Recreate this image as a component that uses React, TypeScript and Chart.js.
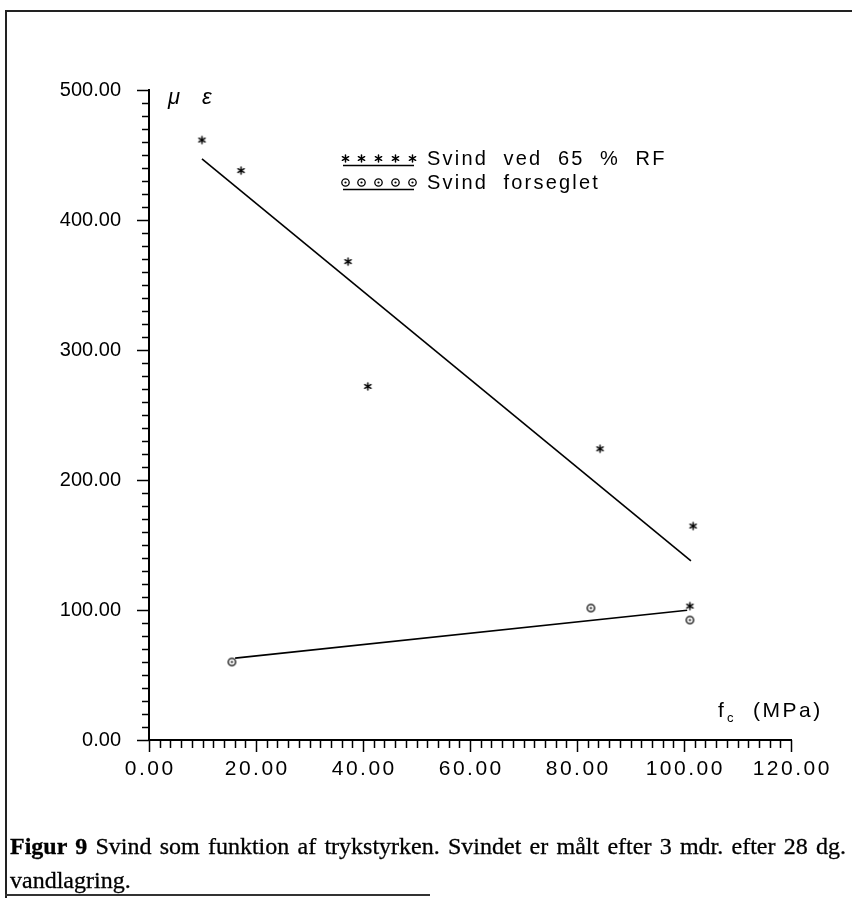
import React, { useEffect, useRef } from "react";
import { Chart, registerables } from "chart.js";

Chart.register(...registerables);

// ---- data ----
const STAR_X = [9.9, 17.2, 37.2, 40.9, 84.3, 101.7, 101.1];
const STAR_Y = [461.5, 438, 368, 272, 224, 164.6, 103];
const CIRC_X = [15.5, 82.6, 101.1];
const CIRC_Y = [60, 101.5, 92.3];
const FIT1_X = [9.9, 101.3];
const FIT1_Y = [447, 137.7];
const FIT2_X = [16.1, 100.6];
const FIT2_Y = [63, 99.8];
const X_TICKS = [0, 20, 40, 60, 80, 100, 120];
const Y_TICKS = [0, 100, 200, 300, 400, 500];
const LEGEND_LABELS = ["Svind  ved  65  %  RF", "Svind  forseglet"];
const Y_TITLE = ["\u03bc", "\u03b5"];
const X_TITLE = ["f", "c", "(MPa)"];
const CAPTION_BOLD = "Figur 9";
const CAPTION_TEXT =
  " Svind som funktion af trykstyrken. Svindet er målt efter 3 mdr. efter 28 dg. vandlagring.";

const SANS = '"Liberation Sans", Arial, sans-serif';

function makeStar(): HTMLCanvasElement {
  const c = document.createElement("canvas");
  c.width = 11;
  c.height = 11;
  const g = c.getContext("2d")!;
  g.strokeStyle = "#000";
  g.lineWidth = 1.5;
  g.lineCap = "round";
  const r = 3.6;
  for (let i = 0; i < 3; i++) {
    const a = Math.PI / 2 + (i * Math.PI) / 3;
    g.beginPath();
    g.moveTo(5.5 - r * Math.cos(a), 5.5 - r * Math.sin(a));
    g.lineTo(5.5 + r * Math.cos(a), 5.5 + r * Math.sin(a));
    g.stroke();
  }
  return c;
}

function makeCircle(): HTMLCanvasElement {
  const c = document.createElement("canvas");
  c.width = 11;
  c.height = 11;
  const g = c.getContext("2d")!;
  g.strokeStyle = "#000";
  g.lineWidth = 1.3;
  g.beginPath();
  g.arc(5.5, 5.5, 3.7, 0, Math.PI * 2);
  g.stroke();
  g.fillStyle = "#000";
  g.beginPath();
  g.arc(5.5, 5.5, 1.1, 0, Math.PI * 2);
  g.fill();
  return c;
}

function drawSpaced(
  ctx: CanvasRenderingContext2D,
  text: string,
  x: number,
  y: number,
  spacing: number,
  align: "left" | "center" | "right"
) {
  const chars = Array.from(text);
  const widths = chars.map((ch) => ctx.measureText(ch).width);
  const total = widths.reduce((a, b) => a + b, 0) + spacing * (chars.length - 1);
  let cx = align === "left" ? x : align === "center" ? x - total / 2 : x - total;
  ctx.textAlign = "left";
  chars.forEach((ch, i) => {
    ctx.fillText(ch, cx, y);
    cx += widths[i] + spacing;
  });
}

export default function App() {
  const ref = useRef<HTMLCanvasElement | null>(null);

  useEffect(() => {
    if (!ref.current) return;
    const star = makeStar();
    const circ = makeCircle();

    const overlay = {
      id: "overlay",
      afterDraw(chart: any) {
        const ctx: CanvasRenderingContext2D = chart.ctx;
        const xs = chart.scales.x;
        const ys = chart.scales.y;
        const area = chart.chartArea;
        ctx.save();
        ctx.strokeStyle = "#000";
        ctx.fillStyle = "#000";
        ctx.lineWidth = 1.5;
        // y ticks (outside, left)
        ys.ticks.forEach((t: any) => {
          const p = Math.round(ys.getPixelForValue(t.value)) + 0.5;
          const len = t.value % 100 === 0 ? 12 : 7;
          ctx.beginPath();
          ctx.moveTo(area.left - len, p);
          ctx.lineTo(area.left, p);
          ctx.stroke();
        });
        // x ticks (outside, below)
        xs.ticks.forEach((t: any) => {
          const p = Math.round(xs.getPixelForValue(t.value)) + 0.5;
          const len = t.value % 20 === 0 ? 12 : 8;
          ctx.beginPath();
          ctx.moveTo(p, area.bottom);
          ctx.lineTo(p, area.bottom + len);
          ctx.stroke();
        });
        // x tick labels
        ctx.font = `21px ${SANS}`;
        ctx.textBaseline = "alphabetic";
        X_TICKS.forEach((v) => {
          drawSpaced(ctx, v.toFixed(2), xs.getPixelForValue(v), 775, 2.5, "center");
        });
        // y title  μ ε
        ctx.font = `italic 22px ${SANS}`;
        ctx.fillText(Y_TITLE[0], 168, 104);
        ctx.fillText(Y_TITLE[1], 202, 104);
        // x title f_c (MPa)
        ctx.font = `21px ${SANS}`;
        ctx.fillText(X_TITLE[0], 718, 717);
        ctx.font = `13px ${SANS}`;
        ctx.fillText(X_TITLE[1], 727, 722);
        ctx.font = `21px ${SANS}`;
        drawSpaced(ctx, X_TITLE[2], 753, 717, 2.5, "left");
        // legend
        const rows = [
          { y: 158, img: star },
          { y: 182, img: circ },
        ];
        rows.forEach((r, i) => {
          for (let k = 0; k < 5; k++) {
            const cx = 345 + k * 16.8;
            ctx.drawImage(r.img, Math.round(cx - 5.5), Math.round(r.y - 5.5));
          }
          ctx.lineWidth = 1.5;
          ctx.beginPath();
          ctx.moveTo(343, r.y + 7.5);
          ctx.lineTo(414, r.y + 7.5);
          ctx.stroke();
          ctx.font = `20px ${SANS}`;
          drawSpaced(ctx, LEGEND_LABELS[i], 427, r.y + 7, 2.2, "left");
        });
        ctx.restore();
      },
    };

    const chart = new Chart(ref.current, {
      type: "scatter",
      data: {
        datasets: [
          {
            label: "Svind ved 65 % RF",
            data: STAR_X.map((x, i) => ({ x, y: STAR_Y[i] })),
            pointStyle: star as any,
            pointRadius: 5,
            showLine: false,
          },
          {
            label: "Svind forseglet",
            data: CIRC_X.map((x, i) => ({ x, y: CIRC_Y[i] })),
            pointStyle: circ as any,
            pointRadius: 5,
            showLine: false,
          },
          {
            label: "fit 1",
            data: FIT1_X.map((x, i) => ({ x, y: FIT1_Y[i] })),
            showLine: true,
            pointRadius: 0,
            borderColor: "#000",
            borderWidth: 1.6,
          },
          {
            label: "fit 2",
            data: FIT2_X.map((x, i) => ({ x, y: FIT2_Y[i] })),
            showLine: true,
            pointRadius: 0,
            borderColor: "#000",
            borderWidth: 1.6,
          },
        ],
      },
      options: {
        responsive: false,
        animation: false,
        devicePixelRatio: 1,
        layout: { padding: { left: 0, top: 90, right: 61, bottom: 0 } },
        plugins: { legend: { display: false }, tooltip: { enabled: false } },
        scales: {
          x: {
            type: "linear",
            min: 0,
            max: 120,
            ticks: { stepSize: 2, display: false, autoSkip: false },
            grid: { display: false, drawTicks: false },
            border: { display: true, color: "#000", width: 2 },
            afterFit: (s: any) => {
              s.height = 60;
            },
          },
          y: {
            type: "linear",
            min: 0,
            max: 500,
            ticks: {
              stepSize: 10,
              autoSkip: false,
              padding: 28,
              color: "#000",
              font: { family: SANS, size: 20 },
              callback: (v: any) =>
                Y_TICKS.includes(Number(v)) ? Number(v).toFixed(2) : "",
            },
            grid: { display: true, drawOnChartArea: false, drawTicks: false },
            border: { display: true, color: "#000", width: 2 },
            afterFit: (s: any) => {
              s.width = 149;
            },
          },
        },
      },
      plugins: [overlay],
    });
    return () => chart.destroy();
  }, []);

  return (
    <div
      style={{
        position: "absolute",
        left: 0,
        top: 0,
        width: 852,
        height: 903,
        background: "#fff",
        overflow: "hidden",
      }}
    >
      <canvas
        ref={ref}
        width={852}
        height={800}
        style={{ position: "absolute", left: 0, top: 0, width: 852, height: 800 }}
      />
      <div
        style={{
          position: "absolute",
          left: 5,
          top: 10,
          width: 847,
          height: 886,
          borderTop: "2px solid #222",
          borderLeft: "2px solid #222",
        }}
      />
      <div
        style={{
          position: "absolute",
          left: 5,
          top: 894,
          width: 425,
          height: 0,
          borderTop: "2px solid #333",
        }}
      />
      <div
        style={{
          position: "absolute",
          left: 10,
          top: 829,
          width: 836,
          fontFamily: '"Liberation Serif", "Times New Roman", serif',
          fontSize: 24,
          lineHeight: "34px",
          textAlign: "justify",
          color: "#000",
          WebkitTextStroke: "0.3px #000",
        }}
      >
        <b>{CAPTION_BOLD}</b>
        {CAPTION_TEXT}
      </div>
    </div>
  );
}
